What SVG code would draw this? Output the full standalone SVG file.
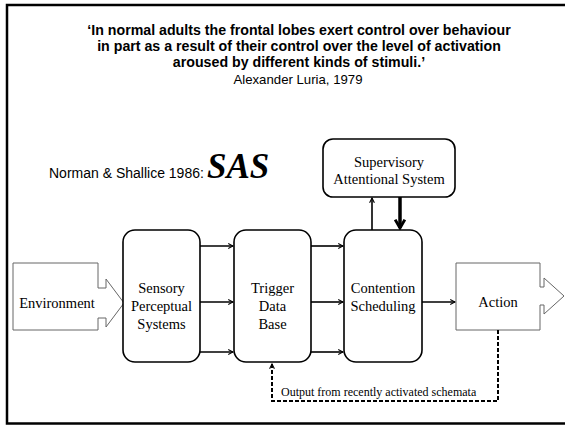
<svg xmlns="http://www.w3.org/2000/svg" width="565" height="426" viewBox="0 0 565 426">
<defs>
<style>
.q{font-family:"Liberation Sans",Arial,sans-serif;font-size:14.2px;font-weight:bold;fill:#000;text-anchor:middle}
.qa{font-family:"Liberation Sans",Arial,sans-serif;font-size:13.2px;fill:#000;text-anchor:middle}
.t{font-family:"Liberation Serif","Times New Roman",serif;font-size:14.5px;fill:#000;text-anchor:middle}
.rb{fill:#fff;stroke:#000;stroke-width:1.6}
.gb{fill:#fff;stroke:#666;stroke-width:1}
.ln{fill:none;stroke:#000;stroke-width:1.6}
</style>
<marker id="ah" viewBox="0 0 10 10" refX="9" refY="5" markerWidth="6" markerHeight="6" markerUnits="userSpaceOnUse" orient="auto">
<path d="M1,1 L9,5 L1,9" fill="none" stroke="#000" stroke-width="1.8"/>
</marker>
<marker id="ahb" viewBox="0 0 10 10" refX="8" refY="5" markerWidth="12" markerHeight="12" markerUnits="userSpaceOnUse" orient="auto">
<path d="M1,1 L8,5 L1,9" fill="none" stroke="#000" stroke-width="2.4"/>
</marker>
</defs>
<rect width="565" height="426" fill="#fff"/>
<path d="M570,5 H7 V423.5 H570" fill="none" stroke="#000" stroke-width="2.5"/>
<g id="quote">
<text class="q" x="299" y="35">‘In normal adults the frontal lobes exert control over behaviour</text>
<text class="q" x="299" y="51">in part as a result of their control over the level of activation</text>
<text class="q" x="299" y="67">aroused by different kinds of stimuli.’</text>
<text class="qa" x="298" y="84">Alexander Luria, 1979</text>
</g>
<g id="title">
<text x="49" y="178" font-family="Liberation Sans, Arial, sans-serif" font-size="14">Norman &amp; Shallice 1986:</text>
<text x="207" y="178" font-family="Liberation Serif, Times New Roman, serif" font-size="35" font-weight="bold" font-style="italic">SAS</text>
</g>
<g id="environment">
<path class="gb" d="M13,263 H98 V288 H106 V279 L124,303 L106,327 V318 H98 V330 H13 Z"/>
<text class="t" x="57" y="308">Environment</text>
</g>
<g id="sensory">
<rect class="rb" x="123" y="230" width="77" height="132" rx="12"/>
<text class="t" x="161.5" y="293">Sensory</text>
<text class="t" x="161.5" y="311">Perceptual</text>
<text class="t" x="161.5" y="329">Systems</text>
</g>
<g id="trigger">
<rect class="rb" x="234" y="230" width="77" height="132" rx="12"/>
<text class="t" x="272.5" y="293">Trigger</text>
<text class="t" x="272.5" y="311">Data</text>
<text class="t" x="272.5" y="329">Base</text>
</g>
<g id="contention">
<rect class="rb" x="344" y="230" width="78" height="132" rx="12"/>
<text class="t" x="383" y="293">Contention</text>
<text class="t" x="383" y="311">Scheduling</text>
</g>
<g id="sas">
<rect class="rb" x="323" y="139" width="132" height="58" rx="10"/>
<text class="t" x="389" y="167">Supervisory</text>
<text class="t" x="389" y="184">Attentional System</text>
</g>
<g id="action">
<path class="gb" d="M456,263 H540 V287 H544 V278 L564,296 L544,314 V305 H540 V330 H456 Z"/>
<text class="t" x="498" y="307">Action</text>
</g>
<g id="connectors">
<line class="ln" x1="200" y1="246" x2="233" y2="246" marker-end="url(#ah)"/>
<line class="ln" x1="200" y1="302" x2="233" y2="302" marker-end="url(#ah)"/>
<line class="ln" x1="200" y1="352" x2="233" y2="352" marker-end="url(#ah)"/>
<line class="ln" x1="311" y1="246" x2="343" y2="246" marker-end="url(#ah)"/>
<line class="ln" x1="311" y1="302" x2="343" y2="302" marker-end="url(#ah)"/>
<line class="ln" x1="311" y1="352" x2="343" y2="352" marker-end="url(#ah)"/>
<line class="ln" x1="422" y1="302" x2="455" y2="302" marker-end="url(#ah)"/>
<line class="ln" x1="372" y1="230" x2="372" y2="198" marker-end="url(#ah)"/>
<line x1="400" y1="197" x2="400" y2="228" stroke="#000" stroke-width="3.5" marker-end="url(#ahb)"/>
<path d="M498,330 V401 H272 V364" fill="none" stroke="#000" stroke-width="2" stroke-dasharray="4,2" marker-end="url(#ah)"/>
<text x="281" y="396" font-family="Liberation Serif, Times New Roman, serif" font-size="12">Output from recently activated schemata</text>
</g>
</svg>
